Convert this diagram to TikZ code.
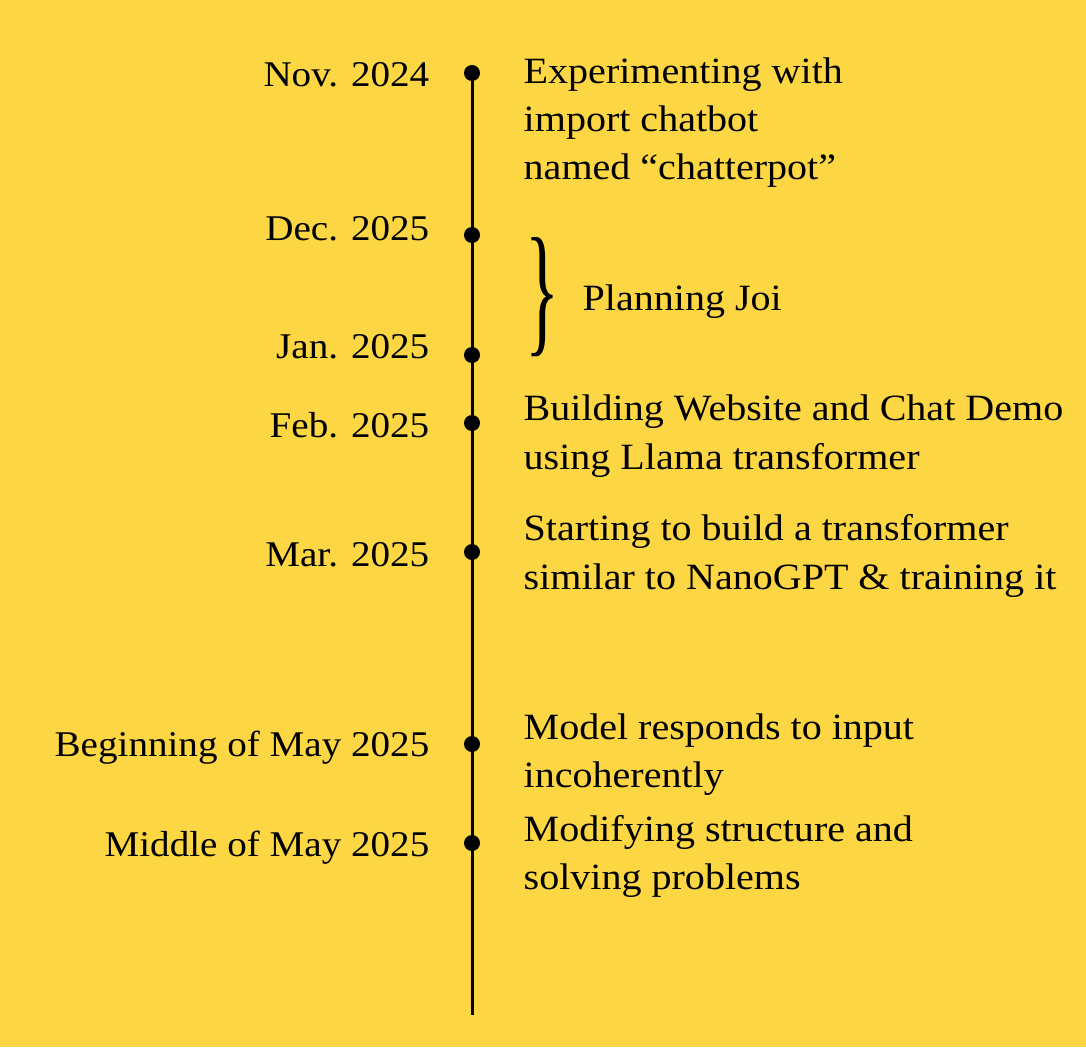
\documentclass[tikz,border=0pt]{standalone}
\usepackage{fontspec}
\setmainfont[FakeStretch=1.08]{Liberation Serif}
\definecolor{bgyellow}{HTML}{FDD743}

\begin{document}
\begin{tikzpicture}[
  dot/.style={circle, fill=black, inner sep=0pt, minimum size=1.6mm},
  date/.style={anchor=base east, inner sep=0pt, font=\fontsize{10.3}{13.66}\selectfont},
  event/.style={anchor=base west, inner sep=0pt, align=left, font=\fontsize{10.55}{13.66}\selectfont},
  axis/.style={line width=0.85pt}
]
\fill[bgyellow] (0,0) rectangle (10.86,10.47);
\useasboundingbox (0,0) rectangle (10.86,10.47);

% dots on the time line
\node[dot] (nov) at (4.72,9.74) {};
\node[dot] (dec) at (4.72,8.12) {};
\node[dot] (jan) at (4.72,6.92) {};
\node[dot] (feb) at (4.72,6.24) {};
\node[dot] (mar) at (4.72,4.95) {};
\node[dot] (maybeg) at (4.72,3.03) {};
\node[dot] (maymid) at (4.72,2.04) {};
\coordinate (end) at (4.72,0.32);
\draw[axis] (nov.center) -- (end);

% dates
\node[date] (novdate) at (4.30,9.60) {Nov. 2024};
\node[date] (decdate) at (4.30,8.07) {Dec. 2025};
\node[date] (jandate) at (4.30,6.89) {Jan. 2025};
\node[date] (febdate) at (4.30,6.10) {Feb. 2025};
\node[date] (mardate) at (4.30,4.81) {Mar. 2025};
\node[date] (maybegdate) at (4.30,2.91) {Beginning of May 2025};
\node[date] (maymiddate) at (4.30,1.91) {Middle of May 2025};

% events (base = baseline of the last line)
\node[event] (novtext) at (5.23,8.67) {Experimenting with\\import chatbot\\named “chatterpot”};
\node[inner sep=0pt] (brace) at (5.42,7.50) {\resizebox{0.34cm}{1.0cm}{\}}};
\node[event] (plantext) at (5.82,7.37) {Planning Joi};
\node[event] (febtext) at (5.23,5.78) {Building Website and Chat Demo\\using Llama transformer};
\node[event] (martext) at (5.23,4.58) {Starting to build a transformer\\similar to NanoGPT \& training it};
\node[event] (maybegtext) at (5.23,2.60) {Model responds to input\\incoherently};
\node[event] (maymidtext) at (5.23,1.58) {Modifying structure and\\solving problems};
\end{tikzpicture}
\end{document}
